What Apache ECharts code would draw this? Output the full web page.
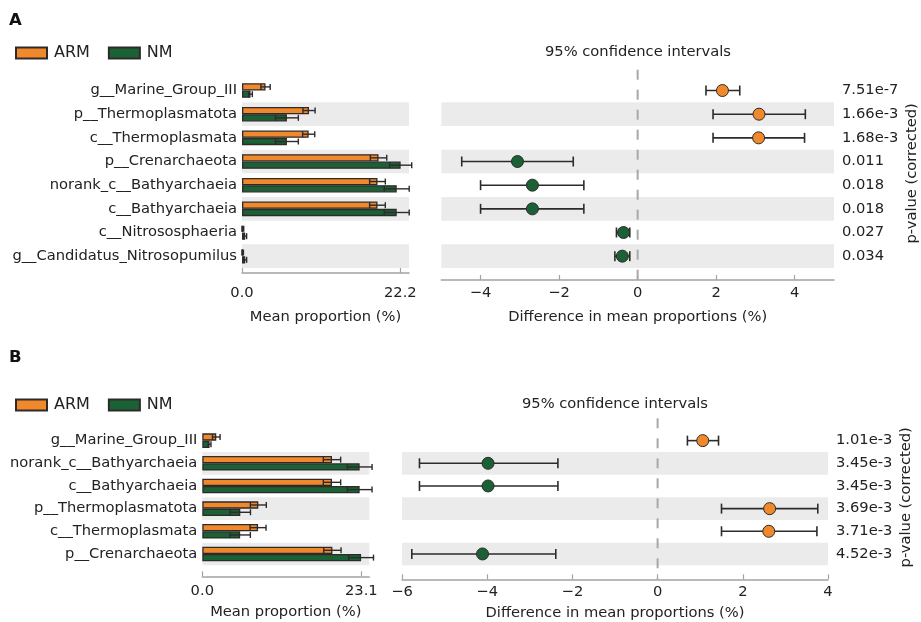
<!DOCTYPE html>
<html>
<head>
<meta charset="utf-8">
<script src="https://cdn.jsdelivr.net/npm/echarts@6/dist/echarts.min.js"></script>
<style>html,body{margin:0;padding:0;background:#fff}#c{width:921px;height:622px}</style>
</head>
<body>
<div id="c"></div>
<script>
// ---------- Panel A data ----------
const catsA = ['g__Marine_Group_III','p__Thermoplasmatota','c__Thermoplasmata','p__Crenarchaeota','norank_c__Bathyarchaeia','c__Bathyarchaeia','c__Nitrososphaeria','g__Candidatus_Nitrosopumilus'];
const armA = [3.3, 9.4, 9.35, 19.15, 19.0, 19.0, 0.12, 0.1];
const armErrA = [0.65, 0.85, 0.85, 1.15, 1.1, 1.1, 0.12, 0.1];
const nmA = [1.2, 6.3, 6.3, 22.25, 21.7, 21.7, 0.45, 0.45];
const nmErrA = [0.25, 1.6, 1.6, 1.55, 1.75, 1.75, 0.2, 0.2];
const diffA = [2.16, 3.09, 3.08, -3.06, -2.68, -2.68, -0.36, -0.39];
const lowA = [1.74, 1.92, 1.92, -4.48, -4.0, -4.0, -0.54, -0.58];
const highA = [2.6, 4.27, 4.25, -1.64, -1.37, -1.37, -0.2, -0.2];
const pA = ['7.51e-7','1.66e-3','1.68e-3','0.011','0.018','0.018','0.027','0.034'];
const barTicksA = [0, 22.2];
const ciTicksA = [-4, -2, 0, 2, 4];

// ---------- Panel B data ----------
const catsB = ['g__Marine_Group_III','norank_c__Bathyarchaeia','c__Bathyarchaeia','p__Thermoplasmatota','c__Thermoplasmata','p__Crenarchaeota'];
const armB = [2.03, 18.84, 18.84, 8.14, 8.1, 18.9];
const armErrB = [0.55, 1.26, 1.26, 1.16, 1.16, 1.26];
const nmB = [1.06, 22.86, 22.86, 5.52, 5.5, 23.07];
const nmErrB = [0.2, 1.8, 1.8, 1.48, 1.48, 1.8];
const diffB = [1.06, -3.98, -3.98, 2.63, 2.61, -4.11];
const lowB = [0.70, -5.59, -5.59, 1.50, 1.50, -5.77];
const highB = [1.43, -2.34, -2.34, 3.76, 3.74, -2.39];
const pB = ['1.01e-3','3.45e-3','3.45e-3','3.69e-3','3.71e-3','4.52e-3'];
const barTicksB = [0, 23.1];
const ciTicksB = [-6, -4, -2, 0, 2, 4];

const seriesNames = ['ARM', 'NM'];
const ORANGE = '#F0892B', GREEN = '#1B6136', EDGE = '#2e2a2a', BAND = '#ebebeb', AXIS = '#a3a3a3', TXT = '#222';
const FONT = 'DejaVu Sans', FS = 14.7;
const BW = 7.3;

const chart = echarts.init(document.getElementById('c'), null, {renderer: 'canvas'});

function fmtMinus(v) { return v < 0 ? '\u2212' + Math.abs(v) : String(v); }

function barErrItem(sign) {
  return function (params, api) {
    const a = api.coord([api.value(0), api.value(2)]);
    const b = api.coord([api.value(1), api.value(2)]);
    const y = a[1] + sign * BW / 2;
    const st = {stroke: EDGE, lineWidth: 1.4};
    return {type: 'group', children: [
      {type: 'line', shape: {x1: a[0], y1: y, x2: b[0], y2: y}, style: st},
      {type: 'line', shape: {x1: a[0], y1: y - 3, x2: a[0], y2: y + 3}, style: st},
      {type: 'line', shape: {x1: b[0], y1: y - 3, x2: b[0], y2: y + 3}, style: st}
    ]};
  };
}
function ciItem(params, api) {
  const a = api.coord([api.value(0), api.value(2)]);
  const b = api.coord([api.value(1), api.value(2)]);
  const st = {stroke: EDGE, lineWidth: 1.6};
  return {type: 'group', children: [
    {type: 'line', shape: {x1: a[0], y1: a[1], x2: b[0], y2: b[1]}, style: st},
    {type: 'line', shape: {x1: a[0], y1: a[1] - 5, x2: a[0], y2: a[1] + 5}, style: st},
    {type: 'line', shape: {x1: b[0], y1: b[1] - 5, x2: b[0], y2: b[1] + 5}, style: st}
  ]};
}
function zeroLine(extTop, extBottom) {
  return function (params, api) {
    const cs = params.coordSys;
    const x = api.coord([api.value(0), 0])[0];
    return {type: 'line', shape: {x1: x, y1: cs.y - extTop, x2: x, y2: cs.y + cs.height + extBottom},
      style: {stroke: '#a8a8a8', lineWidth: 2, lineDash: [10, 10]}, z2: 0};
  };
}

function catAxis(gi, cats, showLabels, right, pvals) {
  const ax = {
    type: 'category', gridIndex: gi, data: cats, inverse: true,
    axisLine: {show: false}, axisTick: {show: false},
    splitArea: {show: true, interval: 0, areaStyle: {color: ['rgba(255,255,255,0)', BAND]}},
    axisLabel: {show: showLabels, color: TXT, fontFamily: FONT, fontSize: FS, margin: 5}
  };
  if (right) {
    ax.position = 'right';
    ax.axisLabel = {show: true, color: TXT, fontFamily: FONT, fontSize: FS, margin: 8, align: 'left',
      formatter: (v, i) => pvals[i]};
    ax.name = 'p-value (corrected)';
    ax.nameLocation = 'middle';
    ax.nameRotate = 90;
    ax.nameGap = 71;
    ax.nameTextStyle = {color: TXT, fontFamily: FONT, fontSize: FS};
  }
  return ax;
}
function valAxis(gi, min, max, ticks, offset, labelMargin, nameGap, name, fmt) {
  return {
    type: 'value', gridIndex: gi, min: min, max: max, offset: offset,
    splitLine: {show: false},
    axisLine: {show: true, lineStyle: {color: AXIS, width: 1.5}},
    axisTick: {show: true, inside: true, length: 5, customValues: ticks, lineStyle: {color: AXIS, width: 1.2}},
    axisLabel: {show: true, customValues: ticks, color: TXT, fontFamily: FONT, fontSize: FS, margin: labelMargin, formatter: fmt},
    name: name, nameLocation: 'middle', nameGap: nameGap,
    nameTextStyle: {color: TXT, fontFamily: FONT, fontSize: FS}
  };
}

function barSeries(name, gx, data, color) {
  return {type: 'bar', name: name, xAxisIndex: gx, yAxisIndex: gx, data: data, barWidth: BW, barGap: '0%',
    itemStyle: {color: color, borderColor: EDGE, borderWidth: 1.3}, silent: true, z: 2};
}
function errSeries(gx, means, errs, sign) {
  return {type: 'custom', xAxisIndex: gx, yAxisIndex: gx, renderItem: barErrItem(sign), silent: true, z: 3,
    encode: {x: [0, 1], y: 2},
    data: means.map((m, i) => [m - errs[i], m + errs[i], i])};
}
function ciSeries(gx, lo, hi) {
  return {type: 'custom', xAxisIndex: gx, yAxisIndex: gx, renderItem: ciItem, silent: true, z: 3,
    encode: {x: [0, 1], y: 2}, data: lo.map((l, i) => [l, hi[i], i])};
}
function ptSeries(gx, diffs) {
  return {type: 'scatter', xAxisIndex: gx, yAxisIndex: gx, symbolSize: 12, silent: true, z: 4,
    data: diffs.map((d, i) => ({value: [d, i], itemStyle: {color: d > 0 ? ORANGE : GREEN}})),
    itemStyle: {borderColor: EDGE, borderWidth: 1, opacity: 1}};
}
function zeroSeries(gx, t, b) {
  return {type: 'custom', xAxisIndex: gx, yAxisIndex: gx, renderItem: zeroLine(t, b), silent: true, z: 1,
    clip: false, data: [[0]], encode: {x: 0}};
}
function legendAt(top) {
  return {left: 15, top: top, padding: 0, data: seriesNames, icon: 'rect', itemWidth: 31, itemHeight: 11, itemGap: 18,
    textStyle: {color: TXT, fontFamily: FONT, fontSize: 16, lineHeight: 18, padding: [0, 0, 0, 2]}, selectedMode: false};
}

const option = {
  animation: false,
  backgroundColor: '#fff',
  textStyle: {fontFamily: FONT},
  legend: [legendAt(44), legendAt(396)],
  grid: [
    {left: 242, top: 78.7, width: 167, height: 189.3},
    {left: 441.3, top: 78.7, width: 393.7, height: 189.3},
    {left: 202.3, top: 429.3, width: 167, height: 136},
    {left: 402, top: 429.3, width: 426, height: 136}
  ],
  xAxis: [
    valAxis(0, 0, 23.42, barTicksA, 5, 13, 37, 'Mean proportion (%)', v => v.toFixed(1)),
    valAxis(1, -5, 5, ciTicksA, 12, 6, 30, 'Difference in mean proportions (%)', fmtMinus),
    valAxis(2, 0, 24.26, barTicksB, 11, 7, 28, 'Mean proportion (%)', v => v.toFixed(1)),
    valAxis(3, -6, 4, ciTicksB, 14, 5, 26, 'Difference in mean proportions (%)', fmtMinus)
  ],
  yAxis: [
    catAxis(0, catsA, true, false),
    catAxis(1, catsA, false, true, pA),
    catAxis(2, catsB, true, false),
    catAxis(3, catsB, false, true, pB)
  ],
  series: [
    barSeries('ARM', 0, armA, ORANGE),
    barSeries('NM', 0, nmA, GREEN),
    errSeries(0, armA, armErrA, -1),
    errSeries(0, nmA, nmErrA, 1),
    zeroSeries(1, 9, 12),
    ciSeries(1, lowA, highA),
    ptSeries(1, diffA),
    barSeries('ARM', 2, armB, ORANGE),
    barSeries('NM', 2, nmB, GREEN),
    errSeries(2, armB, armErrB, -1),
    errSeries(2, nmB, nmErrB, 1),
    zeroSeries(3, 11, 14),
    ciSeries(3, lowB, highB),
    ptSeries(3, diffB)
  ],
  graphic: [
    {type: 'text', left: 9, top: 12, style: {text: 'A', font: 'bold 16.5px "DejaVu Sans"', fill: '#111'}},
    {type: 'text', left: 9, top: 349, style: {text: 'B', font: 'bold 16.5px "DejaVu Sans"', fill: '#111'}},
    {type: 'text', x: 638, y: 52, style: {text: '95% confidence intervals', font: FS + 'px "DejaVu Sans"', fill: TXT, align: 'center', verticalAlign: 'middle'}},
    {type: 'text', x: 615, y: 404, style: {text: '95% confidence intervals', font: FS + 'px "DejaVu Sans"', fill: TXT, align: 'center', verticalAlign: 'middle'}}
  ]
};
chart.setOption(option);
</script>
</body>
</html>
